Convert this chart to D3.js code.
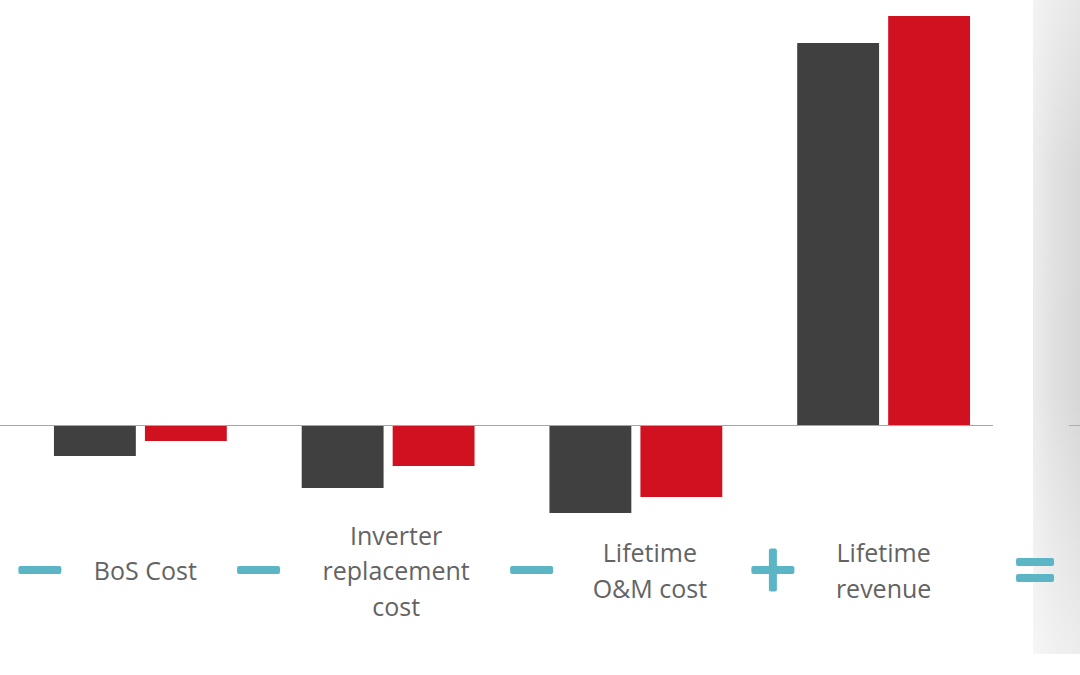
<!DOCTYPE html>
<html>
<head>
<meta charset="utf-8">
<script src="https://cdn.jsdelivr.net/npm/d3@7"></script>
<style>
  html, body { margin: 0; padding: 0; background: #fff; }
  svg { display: block; }
</style>
</head>
<body>
<script>
// cost / revenue components, left to right
const categories = [
  ['BoS Cost'],
  ['Inverter', 'replacement', 'cost'],
  ['Lifetime', 'O&M cost'],
  ['Lifetime', 'revenue']
];
const operators = ['\u2212', '\u2212', '\u2212', '+', '='];
const seriesNames = ['scenarioA', 'scenarioB'];
const seriesA = [-31, -63, -88, 382];   // dark bars
const seriesB = [-16, -41, -72, 409];   // red bars

const width = 1080;
const height = 675;
const colors = { scenarioA: '#404040', scenarioB: '#d0111f' };
const teal = '#5bb5c5';

const svg = d3.select('body')
  .append('svg')
  .attr('width', width)
  .attr('height', height);

// grey panel on the right
const defs = svg.append('defs');
const grad = defs.append('linearGradient')
  .attr('id', 'panel')
  .attr('x1', 0).attr('x2', 1).attr('y1', 0).attr('y2', 0);
grad.append('stop').attr('offset', '0%').attr('stop-color', '#ececec');
grad.append('stop').attr('offset', '45%').attr('stop-color', '#e0e0e0');
grad.append('stop').attr('offset', '100%').attr('stop-color', '#d6d6d6');
const fade = defs.append('linearGradient')
  .attr('id', 'fade')
  .attr('x1', 0).attr('x2', 0).attr('y1', 0).attr('y2', 1);
fade.append('stop').attr('offset', '0%').attr('stop-color', '#fff').attr('stop-opacity', 0.4);
fade.append('stop').attr('offset', '25%').attr('stop-color', '#fff').attr('stop-opacity', 0.05);
fade.append('stop').attr('offset', '60%').attr('stop-color', '#fff').attr('stop-opacity', 0);
fade.append('stop').attr('offset', '100%').attr('stop-color', '#fff').attr('stop-opacity', 0.55);

svg.append('rect')
  .attr('x', 1033).attr('y', 0)
  .attr('width', width - 1033).attr('height', 654)
  .attr('fill', 'url(#panel)');
svg.append('rect')
  .attr('x', 1033).attr('y', 0)
  .attr('width', width - 1033).attr('height', 654)
  .attr('fill', 'url(#fade)');

const keys = categories.map(c => c.join(' '));

const x0 = d3.scaleBand()
  .domain(keys)
  .range([16.5, 1007.5])
  .paddingInner(0.3024)
  .paddingOuter(0.1512);

const x1 = d3.scaleBand()
  .domain(seriesNames)
  .range([0, x0.bandwidth()])
  .paddingInner(0.1)
  .paddingOuter(0);

const y = d3.scaleLinear()
  .domain([-100, 425])
  .range([525, 0]);

const rows = keys.map((k, i) => ({
  key: k,
  values: [
    { name: 'scenarioA', value: seriesA[i] },
    { name: 'scenarioB', value: seriesB[i] }
  ]
}));

svg.append('g')
  .selectAll('g')
  .data(rows)
  .join('g')
  .attr('transform', d => `translate(${x0(d.key)},0)`)
  .selectAll('rect')
  .data(d => d.values)
  .join('rect')
  .attr('x', d => x1(d.name))
  .attr('width', x1.bandwidth())
  .attr('y', d => y(Math.max(0, d.value)))
  .attr('height', d => Math.abs(y(d.value) - y(0)))
  .attr('fill', d => colors[d.name]);

// zero line
svg.append('line')
  .attr('x1', 0).attr('x2', 993)
  .attr('y1', y(0) + 0.5).attr('y2', y(0) + 0.5)
  .attr('stroke', '#a6a6a6')
  .attr('stroke-width', 1);
svg.append('line')
  .attr('x1', 1069).attr('x2', width)
  .attr('y1', y(0) + 0.5).attr('y2', y(0) + 0.5)
  .attr('stroke', '#b0b0b0')
  .attr('stroke-width', 1);

// category labels
const labelShift = [5, 8, 14, 0];
const midY = 570;
const lineH = 35.5;
const fontSize = 25;

const labels = svg.append('g')
  .selectAll('text')
  .data(categories)
  .join('text')
  .attr('x', (d, i) => x0(keys[i]) + x0.bandwidth() / 2 + labelShift[i])
  .attr('y', d => midY - (d.length - 1) * lineH / 2)
  .attr('text-anchor', 'middle')
  .attr('font-family', '"Open Sans", "Noto Sans", sans-serif')
  .attr('font-size', fontSize)
  .attr('fill', '#636363')
  .attr('dominant-baseline', 'central');

labels.each(function(d) {
  const t = d3.select(this);
  const x = t.attr('x');
  d.forEach((line, j) => {
    t.append('tspan')
      .attr('x', x)
      .attr('dy', j === 0 ? 0 : lineH)
      .text(line);
  });
});

// operator signs sit left of each label; "=" after the last group
const opGap = [32, 42, 39, 41];
const opX = [];
labels.each(function(d, i) {
  const b = this.getBBox();
  opX.push(b.x - opGap[i] - 22);
});
opX.push(x0(keys[3]) + x0.bandwidth() + 65);

const ops = svg.append('g')
  .selectAll('g')
  .data(operators)
  .join('g')
  .attr('transform', (d, i) => `translate(${opX[i]},${midY})`);

const armW = 43, armH = 8;
ops.filter(d => d === '\u2212' || d === '+')
  .append('rect')
  .attr('x', -armW / 2).attr('y', -armH / 2)
  .attr('width', armW).attr('height', armH)
  .attr('rx', 2)
  .attr('fill', teal);
ops.filter(d => d === '+')
  .append('rect')
  .attr('x', -armH / 2).attr('y', -armW / 2)
  .attr('width', armH).attr('height', armW)
  .attr('rx', 2)
  .attr('fill', teal);
ops.filter(d => d === '=')
  .selectAll('rect')
  .data([-8, 8])
  .join('rect')
  .attr('x', -19).attr('y', d => d - armH / 2)
  .attr('width', 38).attr('height', armH)
  .attr('rx', 2)
  .attr('fill', teal);
</script>
</body>
</html>
